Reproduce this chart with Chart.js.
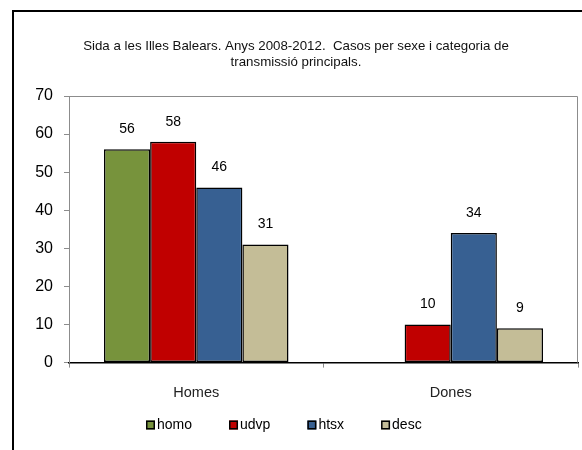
<!DOCTYPE html>
<html>
<head>
<meta charset="utf-8">
<script src="https://cdn.jsdelivr.net/npm/chart.js@4.4.0/dist/chart.umd.min.js"></script>
<style>
  body { margin: 0; background: #fff; }
  #wrap { position: relative; width: 582px; height: 450px; overflow: hidden; }
  #frame { position: absolute; left: 12px; top: 10px; width: 620px; height: 520px;
           border: 2px solid #000; pointer-events: none; }
</style>
</head>
<body>
<div id="wrap">
  <canvas id="chart" width="582" height="450"></canvas>
  <div id="frame"></div>
</div>
<script>
const FONT = "'Liberation Sans', Arial, sans-serif";

const titleLines = [
    'Sida a les Illes Balears. Anys 2008-2012.  Casos per sexe i categoria de',
    'transmissió principals.'
];
const categories = ['Homes', 'Dones'];
const seriesNames = ['homo', 'udvp', 'htsx', 'desc'];
const seriesColors = ['#77933C', '#C00000', '#376092', '#C4BD97'];
const homo = [56, null];
const udvp = [58, 10];
const htsx = [46, 34];
const desc = [31, 9];
const yTicks = [0, 10, 20, 30, 40, 50, 60, 70];

// values above each bar
const valueLabels = {
    id: 'valueLabels',
    afterDatasetsDraw(chart) {
        const ctx = chart.ctx;
        ctx.save();
        ctx.font = '14px ' + FONT;
        ctx.fillStyle = '#000';
        ctx.textAlign = 'center';
        ctx.textBaseline = 'middle';
        chart.data.datasets.forEach((ds, i) => {
            const meta = chart.getDatasetMeta(i);
            meta.data.forEach((bar, j) => {
                if (ds.data[j] === null) return;
                ctx.fillText(ds.data[j], bar.x, bar.y - 20);
            });
        });
        ctx.restore();
    }
};

// grey frame on top and right of the plot area
const plotFrame = {
    id: 'plotFrame',
    beforeDatasetsDraw(chart) {
        const a = chart.chartArea;
        const ctx = chart.ctx;
        ctx.save();
        ctx.strokeStyle = '#8c8c8c';
        ctx.lineWidth = 1;
        ctx.beginPath();
        ctx.moveTo(a.left, a.top + 0.5);
        ctx.lineTo(a.right - 0.5, a.top + 0.5);
        ctx.lineTo(a.right - 0.5, a.bottom);
        ctx.stroke();
        ctx.restore();
    }
};

// legend in one row below the axis, like the original
const rowLegend = {
    id: 'rowLegend',
    afterDraw(chart) {
        const ctx = chart.ctx;
        const gap = 35;
        const box = 9;
        ctx.save();
        ctx.font = '14px ' + FONT;
        ctx.textBaseline = 'middle';
        const items = chart.data.datasets.map(ds => ({
            text: ds.label,
            color: ds.backgroundColor,
            w: box + 4 + ctx.measureText(ds.label).width
        }));
        const total = items.reduce((s, it) => s + it.w, 0) + gap * (items.length - 1);
        let x = Math.round(chart.width / 2 - 6 - total / 2);
        const y = chart.height - 25;
        items.forEach(it => {
            ctx.fillStyle = it.color;
            ctx.fillRect(x, y - box / 2, box, box);
            ctx.strokeStyle = '#000';
            ctx.lineWidth = 1.5;
            ctx.strokeRect(x + 0.75, y - box / 2 + 0.75, box - 1.5, box - 1.5);
            ctx.fillStyle = '#000';
            ctx.fillText(it.text, x + box + 2, y);
            x += it.w + gap;
        });
        ctx.restore();
    }
};

const datasets = [homo, udvp, htsx, desc].map((values, i) => ({
    label: seriesNames[i],
    data: values,
    backgroundColor: seriesColors[i],
    borderColor: '#000',
    borderWidth: 1.5,
    borderSkipped: false,
    categoryPercentage: 0.725,
    barPercentage: 1.0
}));

new Chart(document.getElementById('chart'), {
    type: 'bar',
    data: { labels: categories, datasets: datasets },
    options: {
        responsive: false,
        animation: false,
        layout: { padding: { left: 14, right: 4, top: 0, bottom: 31 } },
        plugins: {
            title: {
                display: true,
                text: titleLines,
                color: '#111',
                font: { family: FONT, size: 13.3, weight: 'normal', lineHeight: 16 / 13.3 },
                padding: { top: 38, bottom: 26 }
            },
            legend: { display: false },
            tooltip: { enabled: false }
        },
        scales: {
            x: {
                grid: { display: true, drawOnChartArea: false, drawTicks: true, tickLength: 5, tickColor: '#8c8c8c' },
                border: { display: true, color: '#000', width: 1.5 },
                ticks: { color: '#222', padding: 17, font: { family: FONT, size: 14.5 } }
            },
            y: {
                min: 0,
                max: 70,
                afterBuildTicks(scale) { scale.ticks = yTicks.map(v => ({ value: v })); },
                grid: { display: true, drawOnChartArea: false, drawTicks: true, tickLength: 5, tickColor: '#8c8c8c' },
                border: { display: true, color: '#8c8c8c', width: 1 },
                ticks: { color: '#000', padding: 11, font: { family: FONT, size: 16 } },
                afterFit(scale) { scale.width = 55; }
            }
        }
    },
    plugins: [valueLabels, plotFrame, rowLegend]
});
</script>
</body>
</html>
